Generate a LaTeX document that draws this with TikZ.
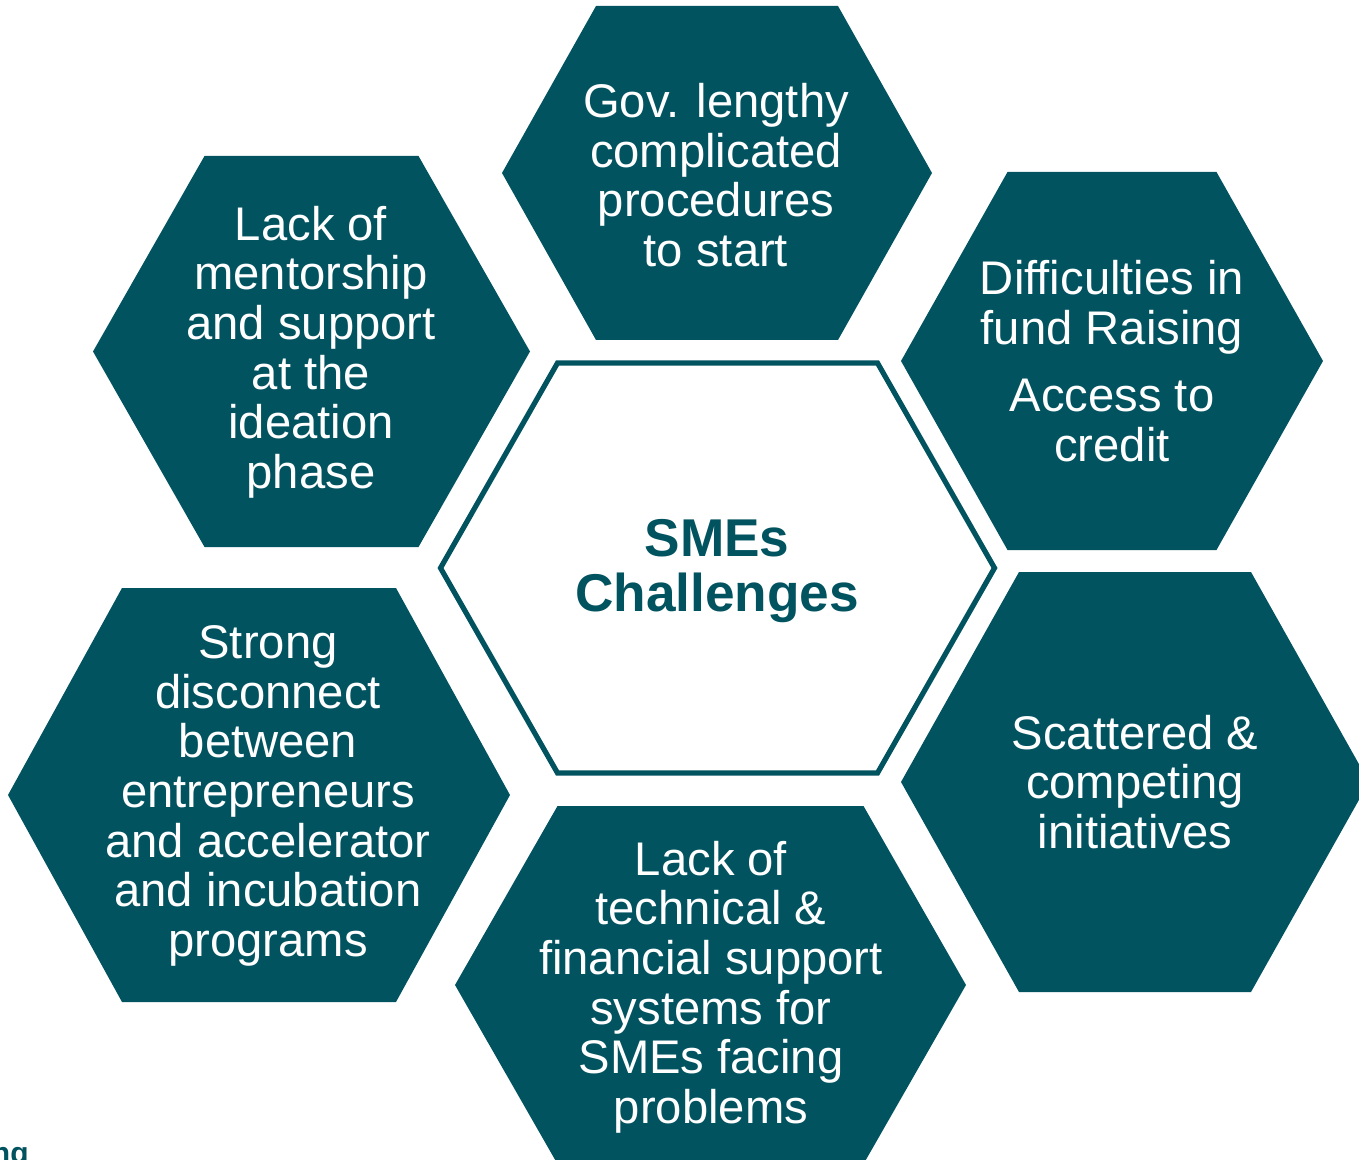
\documentclass[tikz,border=0pt]{standalone}
\usepackage{fontspec}
\setmainfont{Liberation Sans}
\definecolor{smeteal}{RGB}{2,83,96}

% hexagon with flat top and bottom: [style]{cx}{cy}{half width}{half top edge}{half height}
\newcommand{\hexshape}[6][]{%
  \path[#1] ({#2-#4},#3) -- ({#2-#5},{#3-#6}) -- ({#2+#5},{#3-#6})
    -- ({#2+#4},#3) -- ({#2+#5},{#3+#6}) -- ({#2-#5},{#3+#6}) -- cycle;}

\tikzset{
  cell/.style={fill=smeteal},
  celltext/.style={text=white, align=center, inner sep=0pt,
    font=\fontsize{23.6}{24.8}\selectfont},
  hub/.style={draw=smeteal, line width=2.6pt, fill=white, line join=miter},
}

\begin{document}
\begin{tikzpicture}[x=0.5pt, y=-0.5pt]
    \useasboundingbox (0,0) rectangle (1359,1160);
    \clip (0,0) rectangle (1359,1160);

    % === Outer ring of challenges ===
    \hexshape[cell]{717}{173}{215}{121}{167}       % top
    \hexshape[cell]{311.5}{351.5}{218.5}{107}{195.5} % upper left
    \hexshape[cell]{1112}{361}{211}{104.5}{189}    % upper right
    \hexshape[cell]{259}{795}{251}{137}{207}       % lower left
    \hexshape[cell]{710.5}{985}{255.5}{153}{179}   % bottom
    \hexshape[cell]{1135}{782}{234}{116}{210}      % lower right

    % === Centre hexagon ===
    \hexshape[hub]{717.5}{568}{277}{160}{205}

    % Labels
    \node[celltext] (gov) at (716,175) {Gov. lengthy\\complicated\\procedures\\to start};
    \node[celltext] (mentor) at (311,352) {Lack of\\mentorship\\and support\\at the\\ideation\\phase};
    \node[celltext] (fund) at (1112,361) {Difficulties in\\fund Raising\\[9pt]Access to\\credit};
    \node[celltext] (gap) at (268,796) {Strong\\disconnect\\between\\entrepreneurs\\and accelerator\\and incubation\\programs};
    \node[celltext] (support) at (711,987) {Lack of\\technical \&\\financial support\\systems for\\SMEs facing\\problems};
    \node[celltext] (scatter) at (1135,782) {Scattered \&\\competing\\initiatives};

    \node[text=smeteal, align=center, inner sep=0pt,
          font=\bfseries\fontsize{26.6}{27.5}\selectfont] (hubtext) at (717,571) {SMEs\\Challenges};

    % cut-off caption in the corner
    \node[text=smeteal, anchor=base east, inner sep=0pt,
          font=\bfseries\fontsize{15}{17}\selectfont] (corner) at (29,1163) {ng};
\end{tikzpicture}
\end{document}
